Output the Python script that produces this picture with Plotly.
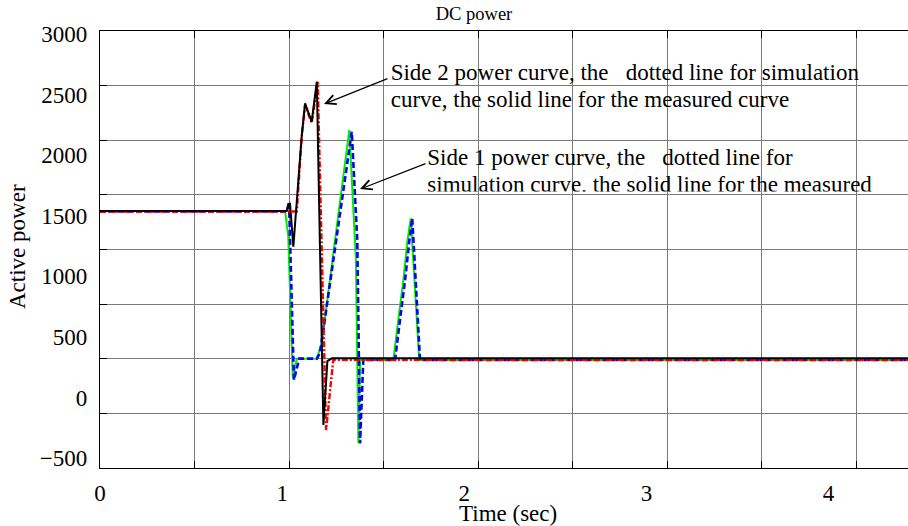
import plotly.graph_objects as go

# ---------------- data ----------------
# Side 2, measured (black solid)
t_side2_meas = [0, 0.988, 1.005, 1.023, 1.067, 1.085, 1.120, 1.147, 1.182, 1.203, 1.226, 4.3]
p_side2_meas = [1540, 1540, 1607, 1244, 2152, 2428, 2276, 2606, -228, 300, 323, 323]

# Side 2, simulation (red dash-dot)
t_side2_sim = [0, 1.041, 1.067, 1.085, 1.120, 1.152, 1.196, 1.234, 4.3]
p_side2_sim = [1535, 1535, 2150, 2414, 2265, 2606, -269, 310, 310]

# Side 1, measured (green solid)
t_side1_meas = [0, 0.979, 0.996, 1.020, 1.041, 1.147, 1.173, 1.319, 1.354, 1.367, 1.376,
                1.552, 1.578, 1.605, 1.627, 1.644, 1.689, 4.3]
p_side1_meas = [1540, 1540, 1327, 158, 320, 320, 447, 2208, 1134, -379, 310,
                310, 639, 969, 1300, 1479, 310, 310]

# Side 1, simulation (blue dashed)
t_side1_sim = [0, 0.988, 1.000, 1.026, 1.054, 1.147, 1.164, 1.332, 1.361, 1.376, 1.393,
               1.561, 1.587, 1.614, 1.637, 1.652, 1.693, 4.3]
p_side1_sim = [1535, 1535, 1616, 144, 320, 320, 367, 2193, 1300, -379, 310,
               310, 639, 969, 1300, 1479, 310, 310]

x_tick_vals = [0, 1, 2, 3, 4]
x_tick_labels = ["0", "1", "2", "3", "4"]
y_tick_vals = [-500, 0, 500, 1000, 1500, 2000, 2500, 3000]
y_tick_labels = ["\u2212500", "0", "500", "1000", "1500", "2000", "2500", "3000"]

title_text = "DC power"
x_title = "Time (sec)"
y_title = "Active power"
side2_lines = ["Side 2 power curve, the\u00a0\u00a0 dotted line for simulation",
               "curve, the solid line for the measured curve"]
side1_lines = ["Side 1 power curve, the\u00a0\u00a0 dotted line for",
               "simulation curve, the solid line for the measured"]

# ---------------- layout constants ----------------
FONT = "Liberation Serif, Times New Roman, serif"
X_RANGE = [0, 4.275]
Y_RANGE = [-582.5, 3025]
X_LABEL_RANGE = [0, 4.4365]
GRID_Y_RANGE = [0, 8]
CLIP_V = 1700  # lower edge of the visible part of the Side 1 note
GRID = "#7a7a7a"

fig = go.Figure()

fig.add_trace(go.Scatter(x=t_side1_meas, y=p_side1_meas, mode="lines",
                         line=dict(color="#00ee00", width=2), name="Side 1 measured"))
fig.add_trace(go.Scatter(x=t_side1_sim, y=p_side1_sim, mode="lines",
                         line=dict(color="#0000ff", width=2.6, dash="6px,3px"), name="Side 1 simulation"))
fig.add_trace(go.Scatter(x=t_side2_sim, y=p_side2_sim, mode="lines",
                         line=dict(color="#ff0000", width=2.4, dash="6px,2px,2px,2px"), name="Side 2 simulation"))
fig.add_trace(go.Scatter(x=t_side2_meas, y=p_side2_meas, mode="lines",
                         line=dict(color="#000000", width=2), name="Side 2 measured"))

# Side 2 note (text)
fig.add_trace(go.Scatter(x=[1.538, 1.538], y=[2667, 2444], mode="text", text=side2_lines,
                         textposition="middle right", cliponaxis=False,
                         textfont=dict(family=FONT, size=23, color="black"), hoverinfo="skip"))
# Side 1 note (text) on a clipped overlay subplot
fig.add_trace(go.Scatter(x=[1.7317, 1.7317], y=[1966, 1745], mode="text", text=side1_lines,
                         textposition="middle right", cliponaxis=True,
                         textfont=dict(family=FONT, size=23, color="black"), hoverinfo="skip",
                         xaxis="x3", yaxis="y3"))
# dummy trace to activate grid/label overlay axes
fig.add_trace(go.Scatter(x=[None], y=[None], xaxis="x2", yaxis="y2", mode="lines", hoverinfo="skip"))

y3_low = (CLIP_V - Y_RANGE[0]) / (Y_RANGE[1] - Y_RANGE[0])

fig.update_layout(
    width=908, height=526,
    margin=dict(l=100, r=0, t=31, b=58),
    paper_bgcolor="white", plot_bgcolor="rgba(0,0,0,0)",
    showlegend=False,
    font=dict(family=FONT, size=23, color="black"),
    title=dict(text=title_text, x=474 / 908, xref="container", xanchor="center",
               y=1 - 14 / 526, yref="container", yanchor="middle",
               font=dict(family=FONT, size=18.5, color="black")),
    xaxis=dict(range=X_RANGE, tick0=0, dtick=0.5, showgrid=True, gridcolor=GRID, gridwidth=1,
               ticks="inside", ticklen=7, tickcolor="black", showticklabels=False,
               showline=True, linecolor="black", linewidth=1.3, mirror="ticks", zeroline=False),
    xaxis2=dict(range=X_LABEL_RANGE, overlaying="x", side="bottom", anchor="y",
                tickmode="array", tickvals=x_tick_vals, ticktext=x_tick_labels,
                ticks="", showgrid=False, showline=False, zeroline=False,
                tickfont=dict(family=FONT, size=23, color="black"), ticklabelstandoff=9),
    yaxis=dict(range=Y_RANGE, tickmode="array", tickvals=y_tick_vals, ticktext=y_tick_labels,
               ticks="", showgrid=False, showline=True, linecolor="black", linewidth=1.3,
               zeroline=False, tickfont=dict(family=FONT, size=23, color="black"),
               ticklabelstandoff=7),
    yaxis2=dict(range=GRID_Y_RANGE, overlaying="y", side="left", anchor="x", dtick=1,
                showgrid=True, gridcolor=GRID, gridwidth=1, ticks="inside", ticklen=7,
                tickcolor="black", showticklabels=False, showline=False, zeroline=False),
    xaxis3=dict(range=X_RANGE, domain=[0, 1], anchor="y3", visible=False),
    yaxis3=dict(range=[CLIP_V, Y_RANGE[1]], domain=[y3_low, 1], anchor="x3", visible=False),
    annotations=[
        dict(text=y_title, xref="paper", yref="paper", x=(18 - 100) / 808, y=(468 - 247) / 437,
             textangle=-90, showarrow=False, xanchor="center", yanchor="middle",
             font=dict(family=FONT, size=23, color="black")),
        dict(text=x_title, xref="paper", yref="paper", x=(508 - 100) / 808, y=(468 - 513) / 437,
             showarrow=False, xanchor="center", yanchor="middle",
             font=dict(family=FONT, size=23, color="black")),
        dict(text="", x=1.1852, y=2422, ax=1.529, ay=2637, xref="x", yref="y", axref="x", ayref="y",
             showarrow=True, arrowhead=5, arrowsize=1.6, arrowwidth=1.2, arrowcolor="black", standoff=0),
        dict(text="", x=1.3757, y=1720, ax=1.730, ay=1935, xref="x", yref="y", axref="x", ayref="y",
             showarrow=True, arrowhead=5, arrowsize=1.6, arrowwidth=1.2, arrowcolor="black", standoff=0),
    ],
)

fig.write_html("out.html", config={"displayModeBar": False},
               post_script="document.body.style.margin='0px';")
